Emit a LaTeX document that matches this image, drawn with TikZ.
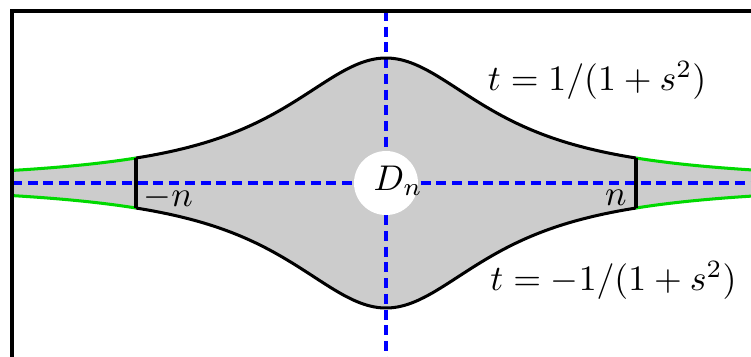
\documentclass[tikz,border=0pt]{standalone}
\begin{document}
\begin{tikzpicture}[x=35pt,y=35pt,
  bound/.style={line width=1.1pt, black},
  curve/.style={line width=0.85pt, black},
  tail/.style={line width=0.85pt, green!85!black},
  axis/.style={blue, line width=0.85pt, dash pattern=on 2.8pt off 1.6pt},
  lab/.style={inner sep=0pt}]
\useasboundingbox (-3.088,-1.384) rectangle (2.92,1.464);
\begin{scope}
  \clip (-2.992,-1.6) rectangle (3.2,1.376);
  \fill[gray!40] plot[domain=-3.05:3.05,samples=150,smooth] (\x,{1/(1+\x*\x)})
     -- plot[domain=3.05:-3.05,samples=150,smooth] (\x,{-1/(1+\x*\x)}) -- cycle;
  \draw[tail] plot[domain=-3.05:-2,samples=30,smooth] (\x,{1/(1+\x*\x)});
  \draw[tail] plot[domain=-3.05:-2,samples=30,smooth] (\x,{-1/(1+\x*\x)});
  \draw[tail] plot[domain=2:3.05,samples=30,smooth] (\x,{1/(1+\x*\x)});
  \draw[tail] plot[domain=2:3.05,samples=30,smooth] (\x,{-1/(1+\x*\x)});
\end{scope}
\coordinate (hl) at (-2.992,0);
\coordinate (hr) at (3.0,0);
\coordinate (vt) at (0,1.376);
\coordinate (vb) at (0,-1.45);
\draw[axis] (hl) -- (hr);
\draw[axis] (vt) -- (vb);
\fill[white] (0,0) circle (0.256);
\node[lab, anchor=base west] (D) at (-0.104,-0.056) {$D_n$};
\draw[curve] plot[domain=-2:2,samples=150,smooth] (\x,{1/(1+\x*\x)});
\draw[curve] plot[domain=-2:2,samples=150,smooth] (\x,{-1/(1+\x*\x)});
\coordinate (lt) at (-2,0.2);
\coordinate (lb) at (-2,-0.2);
\coordinate (rt) at (2,0.2);
\coordinate (rb) at (2,-0.2);
\draw[curve] (lt) -- (lb);
\draw[curve] (rt) -- (rb);
\node[lab, anchor=base west] (mn) at (-1.944,-0.19) {$-n$};
\node[lab, anchor=base east] (pn) at (1.93,-0.176) {$n$};
\node[lab, anchor=base west] (top) at (0.81,0.744) {$t=1/(1+s^2)$};
\node[lab, anchor=base west] (bot) at (0.83,-0.856) {$t=-1/(1+s^2)$};
\draw[bound] (-2.992,-1.6) rectangle (3.2,1.376);
\end{tikzpicture}
\end{document}
